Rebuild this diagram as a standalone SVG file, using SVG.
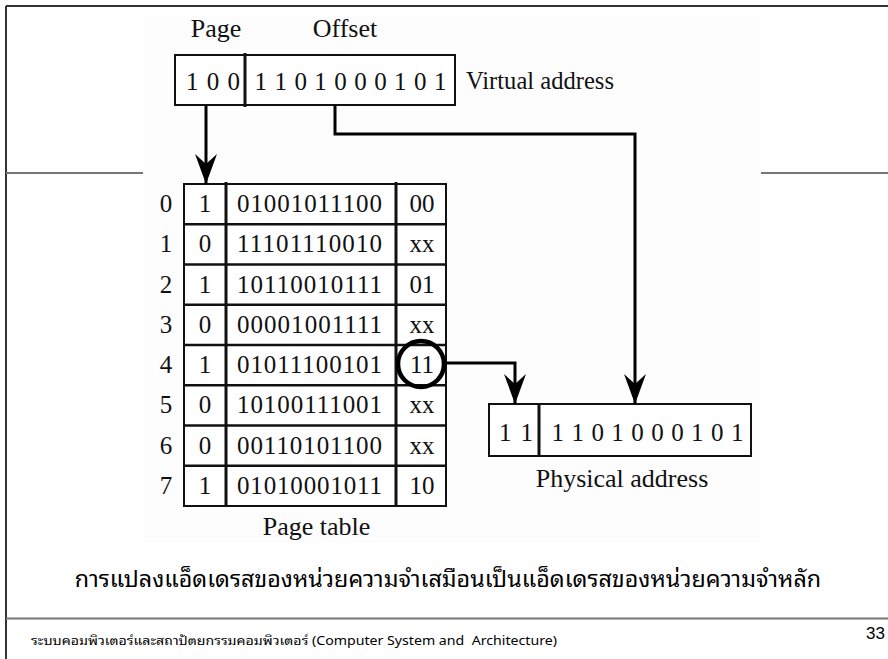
<svg xmlns="http://www.w3.org/2000/svg" width="888" height="659" viewBox="0 0 888 659">
<style>
.t{font-family:"Liberation Serif","Times New Roman",serif;font-size:25px;fill:#111;}
.lbl{font-family:"Liberation Serif","Times New Roman",serif;font-size:26px;fill:#111;}
.box{fill:#fff;stroke:#111;stroke-width:2;}
.div{stroke:#111;stroke-width:3;}
.rowl{stroke:#111;stroke-width:2.5;}
.con{fill:none;stroke:#000;stroke-width:3;}
.frame{stroke:#333;stroke-width:2;}
.gray{stroke:#777;stroke-width:2;}
.th{font-family:"Noto Sans Thai Looped","Noto Serif Thai","Tahoma","Noto Sans Thai","DejaVu Sans","Liberation Sans",sans-serif;fill:#000;}
</style>
<defs>
<marker id="arr" viewBox="0 0 30 22" markerWidth="30" markerHeight="22" refX="30" refY="11" orient="auto" markerUnits="userSpaceOnUse">
<path d="M0,0 L30,11 L0,22 L10,11 Z" fill="#000"/>
</marker>
</defs>
<rect x="0" y="0" width="888" height="659" fill="#fff"/>
<rect x="143" y="16" width="618" height="527" fill="#fdfdfd"/>
<g id="frame">
<line class="frame" x1="6" y1="6" x2="888" y2="6"/>
<line class="frame" x1="6" y1="6" x2="6" y2="659"/>
<line class="gray" x1="6" y1="173" x2="143" y2="173"/>
<line class="gray" x1="761" y1="173" x2="888" y2="173"/>
<line class="gray" x1="6" y1="618.5" x2="888" y2="618.5"/>
</g>
<g id="virtual-address">
<text class="lbl" x="216" y="37" text-anchor="middle">Page</text>
<text class="lbl" x="345" y="37" text-anchor="middle">Offset</text>
<rect class="box" x="175" y="55" width="280" height="50"/>
<line class="div" x1="245" y1="53" x2="245" y2="107"/>
<text class="t" x="213" y="90" text-anchor="middle" textLength="54" lengthAdjust="spacing">1 0 0</text>
<text class="t" x="350.5" y="90" text-anchor="middle" textLength="192" lengthAdjust="spacing">1 1 0 1 0 0 0 1 0 1</text>
<text class="lbl" x="466" y="89" textLength="148" lengthAdjust="spacingAndGlyphs">Virtual address</text>
</g>
<g id="page-table">
<rect class="box" x="184" y="184" width="262" height="322"/>
<line class="rowl" x1="184" y1="224.25" x2="446" y2="224.25"/>
<line class="rowl" x1="184" y1="264.5" x2="446" y2="264.5"/>
<line class="rowl" x1="184" y1="304.75" x2="446" y2="304.75"/>
<line class="rowl" x1="184" y1="345" x2="446" y2="345"/>
<line class="rowl" x1="184" y1="385.25" x2="446" y2="385.25"/>
<line class="rowl" x1="184" y1="425.5" x2="446" y2="425.5"/>
<line class="rowl" x1="184" y1="465.75" x2="446" y2="465.75"/>
<line class="div" x1="226" y1="182" x2="226" y2="507"/>
<line class="div" x1="396" y1="182" x2="396" y2="507"/>
<g class="t">
<text x="166" y="212" text-anchor="middle">0</text>
<text x="166" y="252.25" text-anchor="middle">1</text>
<text x="166" y="292.5" text-anchor="middle">2</text>
<text x="166" y="332.75" text-anchor="middle">3</text>
<text x="166" y="373" text-anchor="middle">4</text>
<text x="166" y="413.25" text-anchor="middle">5</text>
<text x="166" y="453.5" text-anchor="middle">6</text>
<text x="166" y="493.75" text-anchor="middle">7</text>
<text x="205" y="212" text-anchor="middle">1</text>
<text x="205" y="252.25" text-anchor="middle">0</text>
<text x="205" y="292.5" text-anchor="middle">1</text>
<text x="205" y="332.75" text-anchor="middle">0</text>
<text x="205" y="373" text-anchor="middle">1</text>
<text x="205" y="413.25" text-anchor="middle">0</text>
<text x="205" y="453.5" text-anchor="middle">0</text>
<text x="205" y="493.75" text-anchor="middle">1</text>
<text x="309.5" y="212" text-anchor="middle" textLength="145" lengthAdjust="spacing">01001011100</text>
<text x="309.5" y="252.25" text-anchor="middle" textLength="145" lengthAdjust="spacing">11101110010</text>
<text x="309.5" y="292.5" text-anchor="middle" textLength="145" lengthAdjust="spacing">10110010111</text>
<text x="309.5" y="332.75" text-anchor="middle" textLength="145" lengthAdjust="spacing">00001001111</text>
<text x="309.5" y="373" text-anchor="middle" textLength="145" lengthAdjust="spacing">01011100101</text>
<text x="309.5" y="413.25" text-anchor="middle" textLength="145" lengthAdjust="spacing">10100111001</text>
<text x="309.5" y="453.5" text-anchor="middle" textLength="145" lengthAdjust="spacing">00110101100</text>
<text x="309.5" y="493.75" text-anchor="middle" textLength="145" lengthAdjust="spacing">01010001011</text>
<text x="422" y="212" text-anchor="middle">00</text>
<text x="422" y="252.25" text-anchor="middle">xx</text>
<text x="422" y="292.5" text-anchor="middle">01</text>
<text x="422" y="332.75" text-anchor="middle">xx</text>
<text x="422" y="373" text-anchor="middle">11</text>
<text x="422" y="413.25" text-anchor="middle">xx</text>
<text x="422" y="453.5" text-anchor="middle">xx</text>
<text x="422" y="493.75" text-anchor="middle">10</text>
</g>
<circle cx="421" cy="364" r="23" fill="none" stroke="#000" stroke-width="4.5"/>
<text class="lbl" x="316.5" y="535" text-anchor="middle">Page table</text>
</g>
<g id="physical-address">
<rect class="box" x="489" y="404" width="262" height="52"/>
<line class="div" x1="539" y1="403" x2="539" y2="457"/>
<text class="t" x="516" y="441" text-anchor="middle" textLength="34" lengthAdjust="spacing">1 1</text>
<text class="t" x="647.5" y="441" text-anchor="middle" textLength="192" lengthAdjust="spacing">1 1 0 1 0 0 0 1 0 1</text>
<text class="lbl" x="622" y="487" text-anchor="middle">Physical address</text>
</g>
<g id="connectors">
<path class="con" d="M206,105 L206,184" marker-end="url(#arr)"/>
<path class="con" d="M335,105 L335,134 L635,134 L635,404" marker-end="url(#arr)"/>
<path class="con" d="M444,363 L515,363 L515,404" marker-end="url(#arr)"/>
</g>
<g id="caption">
<text class="th" x="448" y="587" font-size="23.3" text-anchor="middle">การแปลงแอ็ดเดรสของหน่วยความจำเสมือนเป็นแอ็ดเดรสของหน่วยความจำหลัก</text>
</g>
<g id="footer">
<text class="th" x="31" y="645" font-size="13" style="white-space:pre" textLength="526" lengthAdjust="spacingAndGlyphs">ระบบคอมพิวเตอร์และสถาปัตยกรรมคอมพิวเตอร์ (Computer System and  Architecture)</text>
<text x="885" y="639" text-anchor="end" font-family="Liberation Sans, Arial, sans-serif" font-size="17" fill="#000">33</text>
</g>
</svg>
